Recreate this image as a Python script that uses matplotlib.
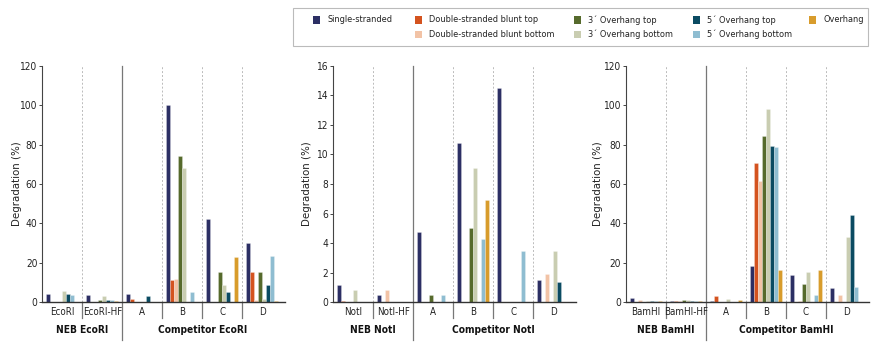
import matplotlib
matplotlib.use('Agg')
import matplotlib.pyplot as plt
import matplotlib.transforms as mtrans
from matplotlib.patches import Rectangle
import numpy as np

plt.rcParams['font.family'] = ['DejaVu Sans']
plt.rcParams['font.stretch'] = 'condensed'

series_names = ['Single-stranded', 'Double-stranded blunt top', 'Double-stranded blunt bottom',
                '3\u00b4 Overhang top', '3\u00b4 Overhang bottom',
                '5\u00b4 Overhang top', '5\u00b4 Overhang bottom', 'Overhang']
colors = ['#2c2f64', '#d4531f', '#f2c3a6', '#566a2c', '#c9cdb1', '#0b4b62', '#8fbdd1', '#d89c2c']

competitors = ['A', 'B', 'C', 'D']

# rows follow series_names; columns: NEB enzyme, NEB HF enzyme, A, B, C, D
ecori_vals = [
    [4.0, 3.5, 4.0, 100, 42.5, 30.3],
    [0, 0, 1.7, 11.5, 0, 15.5],
    [0, 0, 0, 12, 0, 1.2],
    [0, 1.0, 0, 74, 15.5, 15.5],
    [5.8, 3.0, 0, 68, 9.0, 1.5],
    [4.0, 1.2, 3.2, 0, 5.2, 8.7],
    [3.5, 1.2, 0, 5.2, 0, 23.5],
    [0, 0.6, 0, 0, 23, 0.5],
]
noti_vals = [
    [1.15, 0.5, 4.75, 10.8, 14.5, 1.5],
    [0.1, 0, 0, 0, 0, 0],
    [0, 0.85, 0, 0, 0, 1.9],
    [0, 0, 0.5, 5.05, 0, 0],
    [0.85, 0, 0, 9.1, 0, 3.5],
    [0, 0, 0, 0, 0, 1.35],
    [0, 0, 0.5, 4.3, 3.5, 0],
    [0, 0, 0, 6.9, 0, 0],
]
bamhi_vals = [
    [2.3, 0.6, 0.6, 18.3, 13.8, 7.0],
    [0, 0.6, 3.0, 70.5, 0, 0],
    [1.2, 0.5, 0, 61.5, 0.5, 3.5],
    [0, 1.3, 0, 84.5, 9.2, 0],
    [0.5, 1.1, 1.8, 98, 15.5, 33],
    [0.5, 0.6, 0, 79.5, 0, 44.5],
    [0.5, 0.5, 0, 79, 3.5, 7.7],
    [0.5, 0.5, 1.3, 16.5, 16.5, 0],
]

panels = [
    ('EcoRI', ['EcoRI', 'EcoRI-HF'], ecori_vals, 120, 20),
    ('NotI', ['NotI', 'NotI-HF'], noti_vals, 16, 2),
    ('BamHI', ['BamHI', 'BamHI-HF'], bamhi_vals, 120, 20),
]

W, H = 880, 352
fig = plt.figure(figsize=(8.8, 3.52), dpi=100)

lefts = [42.3, 333.3, 626.0]
ylabel_x = [-0.084, -0.088, -0.095]
ax_bottom = (H - 302.3) / H
ax_height = 236.6 / H
ax_width = 242.8 / W
grey = '#777777'
txt = '#222222'

for (enz, neb_labels, vals, ymax, ystep), left, ylx in zip(panels, lefts, ylabel_x):
    ax = fig.add_axes([left / W, ax_bottom, ax_width, ax_height])
    labels = neb_labels + competitors
    x = np.arange(len(labels))
    bw = 0.1
    for i, (row, c) in enumerate(zip(vals, colors)):
        row = np.array(row, dtype=float)
        m = row > 0
        ax.bar(x[m] + (i - 3.5) * bw, row[m], width=bw, color=c,
               edgecolor=(1, 1, 1, 0.35), linewidth=0.5)
    ax.set_xlim(-0.5, 5.57)
    ax.set_ylim(0, ymax)
    ax.set_yticks(np.arange(0, ymax + ystep / 2, ystep))
    ax.set_xticks([])
    for s in ('top', 'right'):
        ax.spines[s].set_visible(False)
    ax.spines['left'].set_color('#444444')
    ax.spines['bottom'].set_color('#333333')
    ax.spines['left'].set_linewidth(0.8)
    ax.spines['bottom'].set_linewidth(1.0)
    ax.tick_params(axis='y', labelsize=7.3, length=2, width=0.7, color='#444444',
                   labelcolor=txt, pad=1.5)
    ax.set_ylabel('Degradation (%)', fontsize=8.2, color=txt)
    ax.yaxis.set_label_coords(ylx, 0.5)

    tr = mtrans.blended_transform_factory(ax.transData, ax.transAxes)
    for b in np.arange(0.5, 5.0, 1.0):
        if b == 1.5:
            ax.plot([b, b], [1, -0.16], color=grey, lw=0.9, transform=tr, clip_on=False)
        else:
            ax.plot([b, b], [0, 1], color='#bbbbbb', lw=0.7, ls=(0, (2, 2)), transform=tr)
            ax.plot([b, b], [0, -0.066], color=grey, lw=0.9, transform=tr, clip_on=False)
    for xi, lab in zip(x, labels):
        ax.text(xi, -0.042, lab, transform=tr, ha='center', va='center',
                fontsize=7.0, color=txt)
    ax.text(0.5, -0.117, 'NEB ' + enz, transform=tr, ha='center', va='center',
            fontsize=7.3, fontweight='bold', color='#111111')
    ax.text(3.5, -0.117, 'Competitor ' + enz, transform=tr, ha='center', va='center',
            fontsize=7.3, fontweight='bold', color='#111111')

# legend box drawn in pixel-based figure coordinates
fig.patches.append(Rectangle((293 / W, 1 - 46 / H), 575 / W, 38 / H,
                             transform=fig.transFigure, facecolor='white',
                             edgecolor='#bbbbbb', linewidth=0.8))
col_x = [313, 415, 574, 693, 809]
row_y = [20, 34.5]
slots = [(0, 0), (1, 0), (1, 1), (2, 0), (2, 1), (3, 0), (3, 1), (4, 0)]
for name, c, (ci, ri) in zip(series_names, colors, slots):
    sx = col_x[ci]
    sy = row_y[ri]
    fig.patches.append(Rectangle((sx / W, 1 - (sy + 3.5) / H), 7 / W, 7 / H,
                                 transform=fig.transFigure, facecolor=c, edgecolor='none'))
    fig.text((sx + 14) / W, 1 - sy / H, name, ha='left', va='center',
             fontsize=6.6, color=txt)

fig.savefig('out.png', dpi=100)
